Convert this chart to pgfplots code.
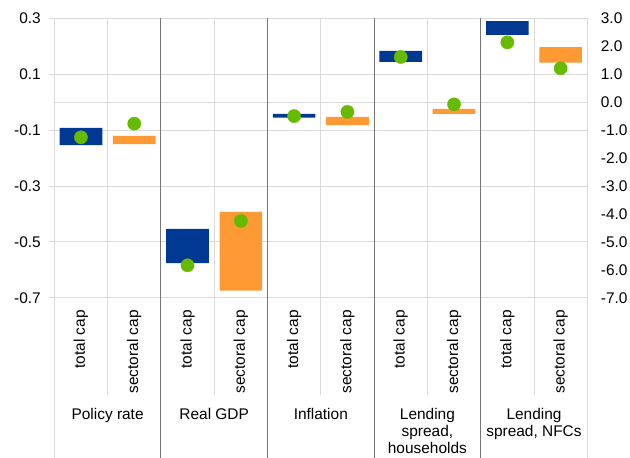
\documentclass[border=0pt]{standalone}
\usepackage{fontspec}
\setmainfont{Liberation Sans}
\usepackage{pgfplots}
\pgfplotsset{compat=1.18}
\definecolor{ecbblue}{RGB}{0,56,148}
\definecolor{ecborange}{RGB}{255,153,51}
\definecolor{ecbgreen}{RGB}{102,187,0}
\definecolor{gridgray}{RGB}{217,217,217}
\definecolor{sepgray}{RGB}{118,118,118}
\newcommand{\lab}{\fontsize{15.5}{17}\selectfont}
\pgfplotsset{
  base/.style={
    scale only axis, width=533bp, height=279.4bp,
    at={(54.3bp,160.3bp)}, anchor=south west,
    xmin=0, xmax=10, clip=false,
    axis line style={draw=none},
    xtick=\empty,
    tick label style={font=\lab},
    tick align=outside, major tick length=5bp,
    ytick style={gridgray, line width=0.75bp},
  }
}
\begin{document}
\begin{tikzpicture}
\path[use as bounding box] (0,0) rectangle (630bp,458bp);
% ---------- left scale: bars of the first three groups ----------
\begin{axis}[base,
  ymin=-0.7, ymax=0.3,
  ytick={-0.7,-0.5,-0.3,-0.1,0.1,0.3},
  yticklabels={-0.7,-0.5,-0.3,-0.1,0.1,0.3},
  ytick pos=left,
  yticklabel style={inner sep=0pt, xshift=-8.3bp},
  ymajorgrids, grid style={gridgray, line width=0.75bp},
  extra y ticks={0}, extra y tick labels={},
  extra y tick style={grid=major, tick style={draw=none}},
  ybar stacked, stack negative=on previous, bar width=0.8,
]
\addplot[draw=none, fill=none] coordinates {(0.5,-0.1535) (1.5,-0.150) (2.5,-0.576) (3.5,-0.675) (4.5,-0.0557) (5.5,-0.082)};
\addplot[draw=none, fill=ecbblue] coordinates {(0.5,0.0609) (1.5,0) (2.5,0.122) (3.5,0) (4.5,0.0132) (5.5,0)};
\addplot[draw=none, fill=ecborange] coordinates {(0.5,0) (1.5,0.029) (2.5,0) (3.5,0.282) (4.5,0) (5.5,0.029)};
% separators
\draw[gridgray, line width=0.75bp] (axis cs:0,0.3) -- ([yshift=-160.3bp]axis cs:0,-0.7);
\draw[gridgray, line width=0.75bp] (axis cs:10,0.3) -- ([yshift=-160.3bp]axis cs:10,-0.7);
\draw[gridgray, line width=0.75bp] (axis cs:1,0.3) -- ([yshift=-97.3bp]axis cs:1,-0.7);
\draw[gridgray, line width=0.75bp] (axis cs:3,0.3) -- ([yshift=-97.3bp]axis cs:3,-0.7);
\draw[gridgray, line width=0.75bp] (axis cs:5,0.3) -- ([yshift=-97.3bp]axis cs:5,-0.7);
\draw[gridgray, line width=0.75bp] (axis cs:7,0.3) -- ([yshift=-97.3bp]axis cs:7,-0.7);
\draw[gridgray, line width=0.75bp] (axis cs:9,0.3) -- ([yshift=-97.3bp]axis cs:9,-0.7);
\draw[sepgray, line width=0.9bp] (axis cs:2,0.3) -- ([yshift=-160.3bp]axis cs:2,-0.7);
\draw[sepgray, line width=0.9bp] (axis cs:4,0.3) -- ([yshift=-160.3bp]axis cs:4,-0.7);
\draw[sepgray, line width=0.9bp] (axis cs:6,0.3) -- ([yshift=-160.3bp]axis cs:6,-0.7);
\draw[sepgray, line width=0.9bp] (axis cs:8,0.3) -- ([yshift=-160.3bp]axis cs:8,-0.7);
% category labels
\node[yshift=-12.3bp, rotate=90, anchor=east, inner sep=0pt, font=\lab] at (axis cs:0.5,-0.7) {total cap};
\node[yshift=-12.3bp, rotate=90, anchor=east, inner sep=0pt, font=\lab] at (axis cs:1.5,-0.7) {sectoral cap};
\node[yshift=-12.3bp, rotate=90, anchor=east, inner sep=0pt, font=\lab] at (axis cs:2.5,-0.7) {total cap};
\node[yshift=-12.3bp, rotate=90, anchor=east, inner sep=0pt, font=\lab] at (axis cs:3.5,-0.7) {sectoral cap};
\node[yshift=-12.3bp, rotate=90, anchor=east, inner sep=0pt, font=\lab] at (axis cs:4.5,-0.7) {total cap};
\node[yshift=-12.3bp, rotate=90, anchor=east, inner sep=0pt, font=\lab] at (axis cs:5.5,-0.7) {sectoral cap};
\node[yshift=-12.3bp, rotate=90, anchor=east, inner sep=0pt, font=\lab] at (axis cs:6.5,-0.7) {total cap};
\node[yshift=-12.3bp, rotate=90, anchor=east, inner sep=0pt, font=\lab] at (axis cs:7.5,-0.7) {sectoral cap};
\node[yshift=-12.3bp, rotate=90, anchor=east, inner sep=0pt, font=\lab] at (axis cs:8.5,-0.7) {total cap};
\node[yshift=-12.3bp, rotate=90, anchor=east, inner sep=0pt, font=\lab] at (axis cs:9.5,-0.7) {sectoral cap};
% group labels
\node[anchor=north, align=center, inner sep=0pt, font=\lab] at ([yshift=-110.6bp]axis cs:1,-0.7) {Policy rate};
\node[anchor=north, align=center, inner sep=0pt, font=\lab] at ([yshift=-110.6bp]axis cs:3,-0.7) {Real GDP};
\node[anchor=north, align=center, inner sep=0pt, font=\lab] at ([yshift=-110.6bp]axis cs:5,-0.7) {Inflation};
\node[anchor=north, align=center, inner sep=0pt, font=\lab] at ([yshift=-110.6bp]axis cs:7,-0.7) {Lending\\spread,\\households};
\node[anchor=north, align=center, inner sep=0pt, font=\lab] at ([yshift=-110.6bp]axis cs:9,-0.7) {Lending\\spread, NFCs};
\end{axis}
% ---------- right scale: bars of the lending spreads ----------
\begin{axis}[base,
  ymin=-7, ymax=3,
  ytick={-7,-6,-5,-4,-3,-2,-1,0,1,2,3},
  yticklabels={-7.0,-6.0,-5.0,-4.0,-3.0,-2.0,-1.0,0.0,1.0,2.0,3.0},
  ytick pos=right,
  ytick style={draw=none},
  yticklabel style={inner sep=0pt, xshift=8.4bp},
  ybar stacked, stack negative=on previous, bar width=0.8,
]
\addplot[draw=none, fill=none] coordinates {(6.5,1.44) (7.5,-0.425) (8.5,2.41) (9.5,1.41)};
\addplot[draw=none, fill=ecbblue] coordinates {(6.5,0.39) (7.5,0) (8.5,0.49) (9.5,0)};
\addplot[draw=none, fill=ecborange] coordinates {(6.5,0) (7.5,0.179) (8.5,0) (9.5,0.56)};
\end{axis}
% ---------- dots ----------
\begin{axis}[base, hide axis, ymin=-0.7, ymax=0.3]
\addplot[only marks, mark=*, mark size=6.6bp, color=ecbgreen] coordinates {(0.5,-0.126) (1.5,-0.077) (2.5,-0.584) (3.5,-0.4255) (4.5,-0.050) (5.5,-0.035)};
\end{axis}
\begin{axis}[base, hide axis, ymin=-7, ymax=3]
\addplot[only marks, mark=*, mark size=6.6bp, color=ecbgreen] coordinates {(6.5,1.615) (7.5,-0.08) (8.5,2.14) (9.5,1.21)};
\end{axis}
\end{tikzpicture}
\end{document}
